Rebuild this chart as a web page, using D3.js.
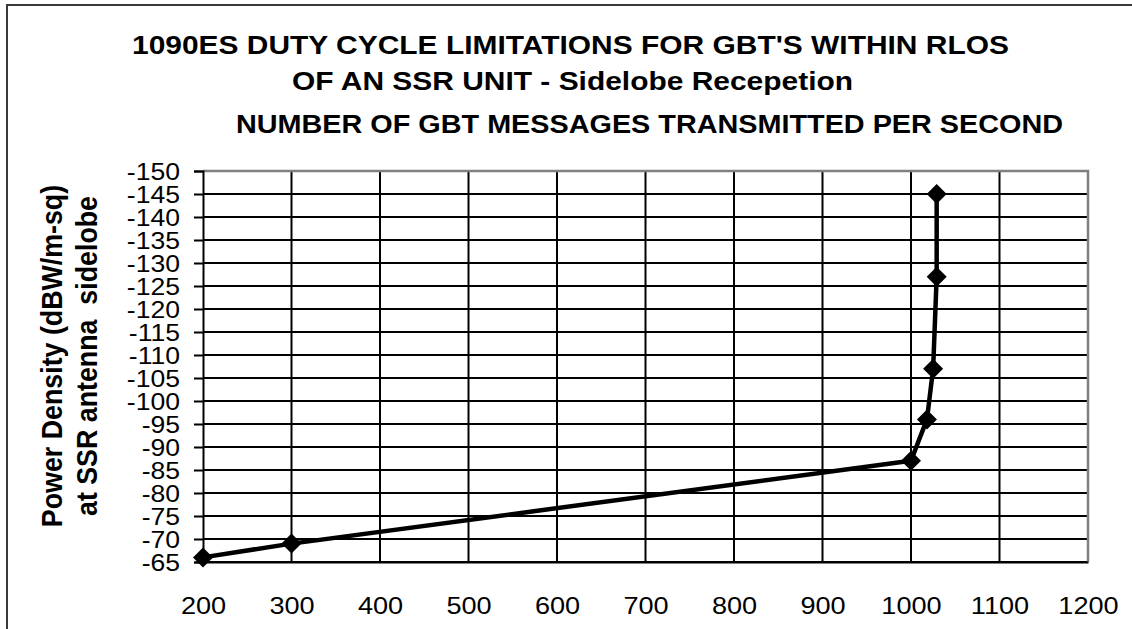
<!DOCTYPE html>
<html>
<head>
<meta charset="utf-8">
<script src="https://cdn.jsdelivr.net/npm/d3@7"></script>
<style>
  html, body { margin: 0; padding: 0; background: #fff; }
  svg { display: block; font-family: "Liberation Sans", Arial, sans-serif; }
</style>
</head>
<body>
<svg id="chart" width="1132" height="629"></svg>
<script>
// ---- data ----
const messagesPerSecond = [200, 300, 1000, 1018, 1025, 1029, 1029];
const powerDensity = [-66, -69, -87, -96, -107, -127, -145];
const xTickValues = [200, 300, 400, 500, 600, 700, 800, 900, 1000, 1100, 1200];
const yTickValues = [-150, -145, -140, -135, -130, -125, -120, -115, -110, -105, -100, -95, -90, -85, -80, -75, -70, -65];
const titleLines = [
  "1090ES DUTY CYCLE LIMITATIONS FOR GBT'S WITHIN RLOS",
  "OF AN SSR UNIT - Sidelobe Recepetion"
];
const xAxisTitle = "NUMBER OF GBT MESSAGES TRANSMITTED PER SECOND";
const yAxisTitle = ["Power Density (dBW/m-sq)", "at SSR antenna  sidelobe"];

// ---- layout ----
const SX = 1.13; // horizontal stretch of glyphs
const pL = 203, pR = 1088, pT = 171, pB = 562;
const svg = d3.select("#chart");

// outer frame
svg.append("rect").attr("x", 7).attr("y", 5).attr("width", 1140).attr("height", 640)
  .attr("fill", "#fff").attr("stroke", "#3a3a3a").attr("stroke-width", 2);

const x = d3.scaleLinear().domain([200, 1200]).range([pL, pR]);
const y = d3.scaleLinear().domain([-150, -65]).range([pT, pB]);

// gridlines
const grid = svg.append("g");
grid.selectAll("line.h").data(yTickValues).join("line")
  .attr("x1", pL).attr("x2", pR)
  .attr("y1", d => y(d)).attr("y2", d => y(d))
  .attr("stroke", "#000").attr("stroke-width", 2);
grid.selectAll("line.v").data(xTickValues.slice(1, -1)).join("line")
  .attr("x1", d => x(d)).attr("x2", d => x(d))
  .attr("y1", pT).attr("y2", pB)
  .attr("stroke", "#000").attr("stroke-width", 2);

// plot border (top/right gray)
svg.append("path")
  .attr("d", `M${pL},${pT}H${pR}V${pB}`)
  .attr("fill", "none").attr("stroke", "#808080").attr("stroke-width", 2.5);

// y axis
const yAxis = svg.append("g").attr("transform", `translate(${pL},0)`)
  .call(d3.axisLeft(y).tickValues(yTickValues).tickSize(9).tickFormat(d => String(d)));
yAxis.select(".domain").attr("stroke", "#000").attr("stroke-width", 2);
yAxis.selectAll(".tick line").attr("stroke", "#000").attr("stroke-width", 2);
yAxis.selectAll(".tick text")
  .attr("x", 0).attr("dy", "0.36em")
  .attr("transform", `translate(${180 - pL},0) scale(${SX},1)`)
  .attr("text-anchor", "end")
  .attr("font-size", 23.5).attr("fill", "#000")
  .attr("font-family", "Liberation Sans, Arial, sans-serif");

// x axis
const xAxis = svg.append("g").attr("transform", `translate(0,${pB})`)
  .call(d3.axisBottom(x).tickValues(xTickValues).tickSize(0).tickFormat(d => String(d)));
xAxis.select(".domain").attr("stroke", "#000").attr("stroke-width", 2);
xAxis.selectAll(".tick text")
  .attr("y", 0).attr("dy", 0)
  .attr("transform", `translate(0,${614 - pB}) scale(${SX},1)`)
  .attr("text-anchor", "middle")
  .attr("font-size", 24).attr("fill", "#000")
  .attr("font-family", "Liberation Sans, Arial, sans-serif");

// line
const pts = messagesPerSecond.map((v, i) => [v, powerDensity[i]]);
svg.append("path")
  .attr("d", d3.line().x(d => x(d[0])).y(d => y(d[1]))(pts))
  .attr("fill", "none").attr("stroke", "#000").attr("stroke-width", 4.5)
  .attr("stroke-linejoin", "round");

// markers (diamonds)
svg.selectAll("path.marker").data(pts).join("path")
  .attr("class", "marker")
  .attr("d", d3.symbol().type(d3.symbolSquare).size(200))
  .attr("transform", d => `translate(${x(d[0])},${y(d[1])}) rotate(45)`)
  .attr("fill", "#000");

// titles
const titleStarts = [132, 292];
const titleBaselines = [54.3, 90];
titleLines.forEach((t, i) => {
  svg.append("text")
    .attr("transform", `translate(${titleStarts[i]},${titleBaselines[i]}) scale(${SX},1)`)
    .attr("font-size", 26.5).attr("font-weight", "bold").attr("fill", "#000")
    .text(t);
});
svg.append("text")
  .attr("transform", `translate(236,133) scale(${SX},1)`)
  .attr("font-size", 25.5).attr("font-weight", "bold").attr("fill", "#000")
  .text(xAxisTitle);

// y axis title (two rotated lines)
const yTitleX = [62, 97];
yAxisTitle.forEach((t, i) => {
  svg.append("text")
    .attr("transform", `translate(${yTitleX[i]},356) scale(${SX},1) rotate(-90)`)
    .attr("text-anchor", "middle")
    .attr("xml:space", "preserve")
    .style("white-space", "pre")
    .attr("font-size", 26.8).attr("font-weight", "bold").attr("fill", "#000")
    .text(t);
});
</script>
</body>
</html>
